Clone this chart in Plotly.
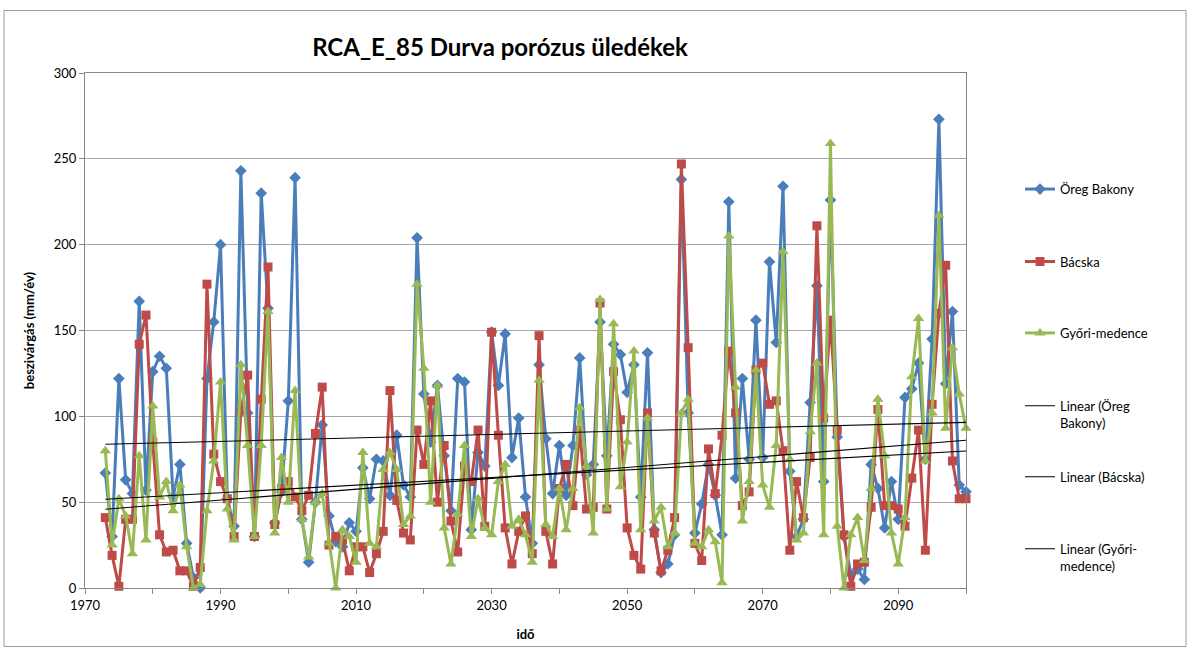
import numpy as np
import plotly.graph_objects as go

years = list(range(1973, 2101))

oreg_bakony = [67, 30, 122, 63, 55, 167, 57, 126, 135, 128, 53, 72, 26, 6, 0, 122, 155, 200, 52, 36,
               243, 102, 30, 230, 163, 38, 56, 109, 239, 40, 15, 50, 95, 42, 27, 24, 38, 33, 70, 52,
               75, 74, 54, 89, 60, 53, 204, 113, 85, 118, 77, 45, 122, 120, 34, 79, 71, 149, 118, 148,
               76, 99, 53, 26, 130, 87, 55, 83, 54, 83, 134, 66, 72, 155, 77, 142, 136, 114, 130, 53,
               137, 34, 9, 14, 31, 238, 102, 32, 49, 72, 54, 31, 225, 64, 122, 75, 156, 76, 190, 143,
               234, 68, 30, 40, 108, 176, 62, 226, 88, 30, 8, 11, 5, 72, 58, 35, 62, 40, 111, 116,
               131, 75, 145, 273, 119, 161, 60, 56]

bacska = [41, 19, 1, 40, 40, 142, 159, 85, 31, 21, 22, 10, 10, 1, 12, 177, 78, 62, 52, 30,
          103, 124, 30, 110, 187, 37, 58, 62, 53, 45, 54, 90, 117, 25, 30, 28, 10, 24, 24, 9,
          20, 33, 115, 51, 32, 28, 92, 72, 109, 50, 83, 39, 21, 71, 62, 92, 36, 149, 89, 35,
          14, 33, 42, 20, 147, 33, 14, 58, 72, 48, 92, 46, 47, 166, 46, 126, 98, 35, 19, 11,
          102, 32, 10, 22, 41, 247, 140, 26, 16, 81, 55, 89, 138, 102, 48, 56, 127, 131, 107, 109,
          80, 22, 62, 41, 76, 211, 99, 156, 92, 31, 1, 14, 15, 47, 104, 48, 48, 46, 36, 64,
          92, 22, 107, 160, 188, 74, 52, 52]

gyori_medence = [80, 25, 52, 42, 20, 77, 28, 106, 53, 62, 45, 60, 24, 0, 2, 45, 74, 120, 46, 28,
                 130, 83, 30, 83, 161, 32, 76, 50, 115, 40, 18, 50, 55, 26, 0, 34, 30, 15, 79, 26,
                 24, 69, 79, 69, 37, 42, 177, 128, 50, 118, 35, 14, 43, 83, 30, 52, 35, 31, 62, 72,
                 36, 40, 31, 15, 121, 37, 30, 58, 34, 58, 105, 71, 32, 168, 46, 154, 59, 85, 138, 34,
                 99, 39, 47, 24, 32, 102, 110, 26, 24, 34, 27, 3, 205, 117, 39, 62, 127, 60, 47, 83,
                 196, 75, 28, 32, 91, 131, 31, 259, 36, 0, 31, 41, 16, 58, 110, 77, 32, 14, 41, 123,
                 157, 74, 102, 217, 93, 140, 113, 93]

series_names = ["Öreg Bakony", "Bácska", "Győri-medence"]
trend_names = ["Linear (Öreg<br>Bakony)", "Linear (Bácska)", "Linear (Győri-<br>medence)"]
x_ticks = [1970, 1990, 2010, 2030, 2050, 2070, 2090]
y_ticks = [0, 50, 100, 150, 200, 250, 300]

FONT = "Lato, Open Sans, sans-serif"
colors = ["#4A7EBB", "#BE4B48", "#98B954"]
symbols = ["diamond", "square", "triangle-up"]
sizes = [9, 9, 10]

# plot area in pixels: x 85..966, y 73..592
L, R, T, B = 85, 966, 73, 592
W, H = 1187, 652
def px(x): return (x - L) / (R - L)
def py(y): return (B - y) / (B - T)

fig = go.Figure()
data = [oreg_bakony, bacska, gyori_medence]
for k in range(3):
    fig.add_trace(go.Scatter(
        x=years, y=data[k], mode="lines+markers", name=series_names[k],
        line=dict(color=colors[k], width=3),
        marker=dict(symbol=symbols[k], size=sizes[k], color=colors[k]),
        cliponaxis=False,
        legend="legend" if k == 0 else f"legend{k+1}",
    ))

yrs = np.array(years, dtype=float)
for k in range(3):
    a, b = np.polyfit(yrs, np.array(data[k], dtype=float), 1)
    xs = [years[0], years[-1]]
    fig.add_trace(go.Scatter(
        x=xs, y=[a * v + b for v in xs], mode="lines", name=trend_names[k],
        line=dict(color="black", width=1.1),
        legend=f"legend{k+4}",
    ))

legend_y = [190, 263, 335, 417, 480, 561]
legend_common = dict(x=px(1020), xanchor="left", yanchor="middle", bgcolor="rgba(0,0,0,0)",
                     font=dict(family=FONT, size=13, color="#000"), itemwidth=30, valign="top")
layout_legends = {}
for j, yy in enumerate(legend_y):
    key = "legend" if j == 0 else f"legend{j+1}"
    layout_legends[key] = dict(legend_common, y=py(yy))

fig.update_layout(
    width=W, height=H,
    margin=dict(l=L, r=W - R, t=T, b=H - B, pad=0),
    paper_bgcolor="white", plot_bgcolor="white",
    font=dict(family=FONT, size=13, color="#000"),
    title=dict(text="<b>RCA_E_85 Durva porózus üledékek</b>", x=500 / W, xanchor="center",
               y=1 - 48 / H, yanchor="middle", font=dict(family=FONT, size=24, color="#000")),
    xaxis=dict(range=[1970, 2100], tickvals=x_ticks, ticks="outside", ticklen=5, tickcolor="#878787",
               showgrid=False, zeroline=False, showline=True, linecolor="#878787", linewidth=1,
               mirror=True, tickfont=dict(size=13),
               minor=dict(dtick=10, ticks="outside", ticklen=5, tickcolor="#878787"),
               title=dict(text="<b>idő</b>", font=dict(size=13), standoff=18)),
    yaxis=dict(range=[0, 300], tickvals=y_ticks, ticks="outside", ticklen=5, tickcolor="#878787",
               showgrid=True, gridcolor="#A6A6A6", gridwidth=1, zeroline=False,
               showline=True, linecolor="#878787", linewidth=1, mirror=True, tickfont=dict(size=13),
               title=dict(text="<b>beszivárgás (mm/év)</b>", font=dict(size=13), standoff=16)),
    showlegend=True,
    **layout_legends,
)

fig.add_shape(type="rect", xref="paper", yref="paper",
              x0=px(4), x1=px(1186), y0=py(651), y1=py(10),
              line=dict(color="#9A9A9A", width=1), layer="below")

fig.write_html("out.html", config={"displayModeBar": False},
               post_script="document.body.style.margin='0';document.body.style.overflow='hidden';")
